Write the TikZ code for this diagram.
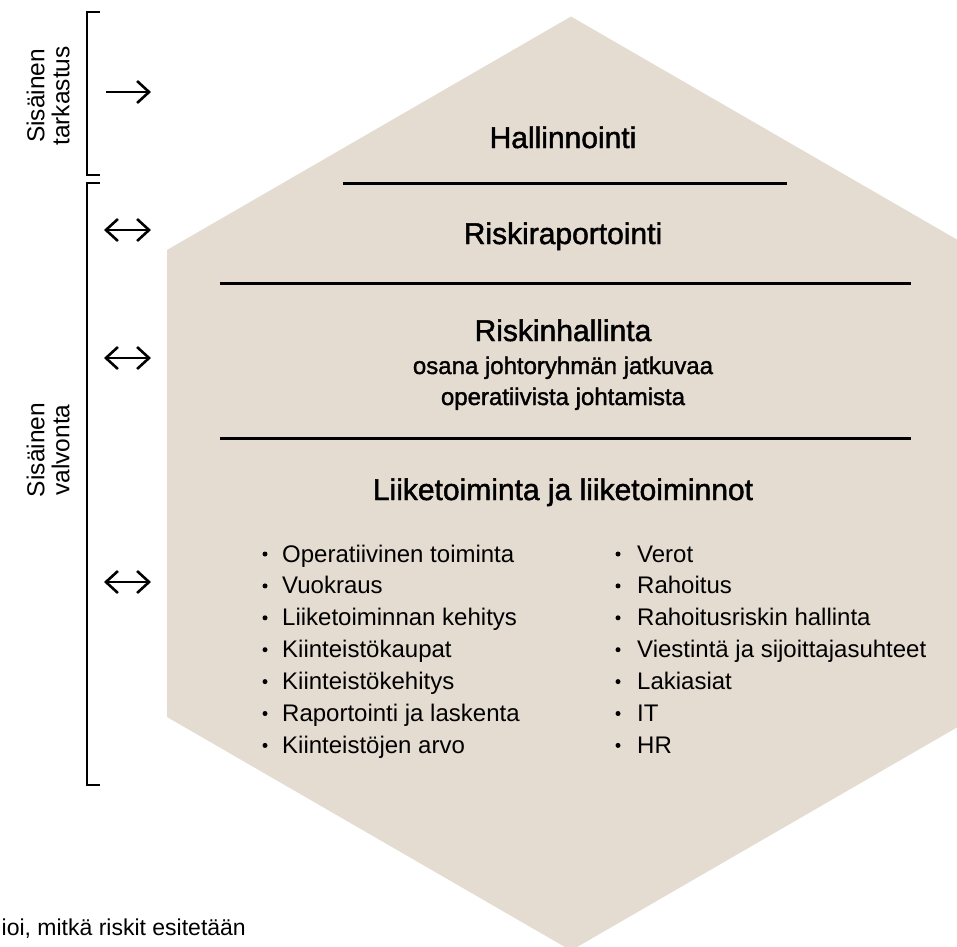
\documentclass[tikz,border=0pt]{standalone}
\usepackage{fontspec}
\setmainfont{Liberation Sans}
\newfontfamily\medfont{Liberation Sans}[FakeBold=1.5]
\usetikzlibrary{arrows.meta}
\definecolor{hexbeige}{HTML}{E4DBD1}

\tikzset{
  heading/.style={font={\medfont\fontsize{30}{36}\selectfont}, anchor=base, inner sep=0pt},
  subline/.style={font={\medfont\fontsize{24}{30}\selectfont}, anchor=base, inner sep=0pt},
  listitem/.style={font={\fontsize{24}{30}\selectfont}, anchor=base west, inner sep=0pt},
  bulletdot/.style={circle, fill=black, inner sep=0pt, minimum size=5pt},
  sidelabel/.style={font={\fontsize{24.5}{25}\selectfont}, rotate=90, align=center, inner sep=0pt},
  divider/.style={line width=3pt},
  bracket/.style={line width=2.6pt},
  oneway/.style={line width=2.6pt, -{Straight Barb[length=12pt,width=22pt]}},
  twoway/.style={line width=2.6pt, {Straight Barb[length=12pt,width=22pt]}-{Straight Barb[length=12pt,width=22pt]}}
}

\begin{document}
\begin{tikzpicture}[x=1pt, y=-1pt]
    \useasboundingbox (0,0) rectangle (957,946);
    \clip (0,0) rectangle (957,946);

    % hexagon
    \fill[hexbeige] (571,16.5) -- (975,250) -- (975,717) -- (571,950.5) -- (167,717) -- (167,250) -- cycle;

    % levels
    \node[heading] (hallinnointi) at (563,148) {Hallinnointi};
    \draw[divider] (343,183) -- (787,183);
    \node[heading] (raportointi) at (563,244) {Riskiraportointi};
    \draw[divider] (220,283) -- (911,283);
    \node[heading] (riskinhallinta) at (563,341) {Riskinhallinta};
    \node[subline] (osana) at (563,374) {osana johtoryhmän jatkuvaa};
    \node[subline] (operatiivista) at (563,405) {operatiivista johtamista};
    \draw[divider] (220,438) -- (911,438);
    \node[heading] (liiketoiminta) at (563,500) {Liiketoiminta ja liiketoiminnot};

    % lists
    \foreach \txt [count=\i] in {Operatiivinen toiminta, Vuokraus, Liiketoiminnan kehitys,
        Kiinteistökaupat, Kiinteistökehitys, Raportointi ja laskenta, Kiinteistöjen arvo} {
        \node[bulletdot] (lb\i) at (265,554+31.9*\i-31.9) {};
        \node[listitem] (left\i) at (282,562+31.9*\i-31.9) {\txt};
    }
    \foreach \txt [count=\i] in {Verot, Rahoitus, Rahoitusriskin hallinta,
        Viestintä ja sijoittajasuhteet, Lakiasiat, IT, HR} {
        \node[bulletdot] (rb\i) at (618,554+31.9*\i-31.9) {};
        \node[listitem] (right\i) at (637,562+31.9*\i-31.9) {\txt};
    }

    % brackets
    \draw[bracket] (100,12) -- (87,12) -- (87,175) -- (100,175);
    \draw[bracket] (100,183) -- (87,183) -- (87,785) -- (100,785);
    \node[sidelabel] (tarkastus) at (48,96) {Sisäinen\\tarkastus};
    \node[sidelabel] (valvonta) at (48,450) {Sisäinen\\valvonta};

    % arrows
    \coordinate (a1) at (106,92);  \coordinate (b1) at (151,92);
    \coordinate (a2) at (104,230); \coordinate (b2) at (151,230);
    \coordinate (a3) at (104,358); \coordinate (b3) at (151,358);
    \coordinate (a4) at (104,582); \coordinate (b4) at (151,582);
    \draw[oneway] (a1) -- (b1);
    \draw[twoway] (a2) -- (b2);
    \draw[twoway] (a3) -- (b3);
    \draw[twoway] (a4) -- (b4);

    \node[font={\fontsize{23}{28}\selectfont}, anchor=base east, inner sep=0pt] (note) at (246,935) {ioi, mitkä riskit esitetään};
\end{tikzpicture}
\end{document}
